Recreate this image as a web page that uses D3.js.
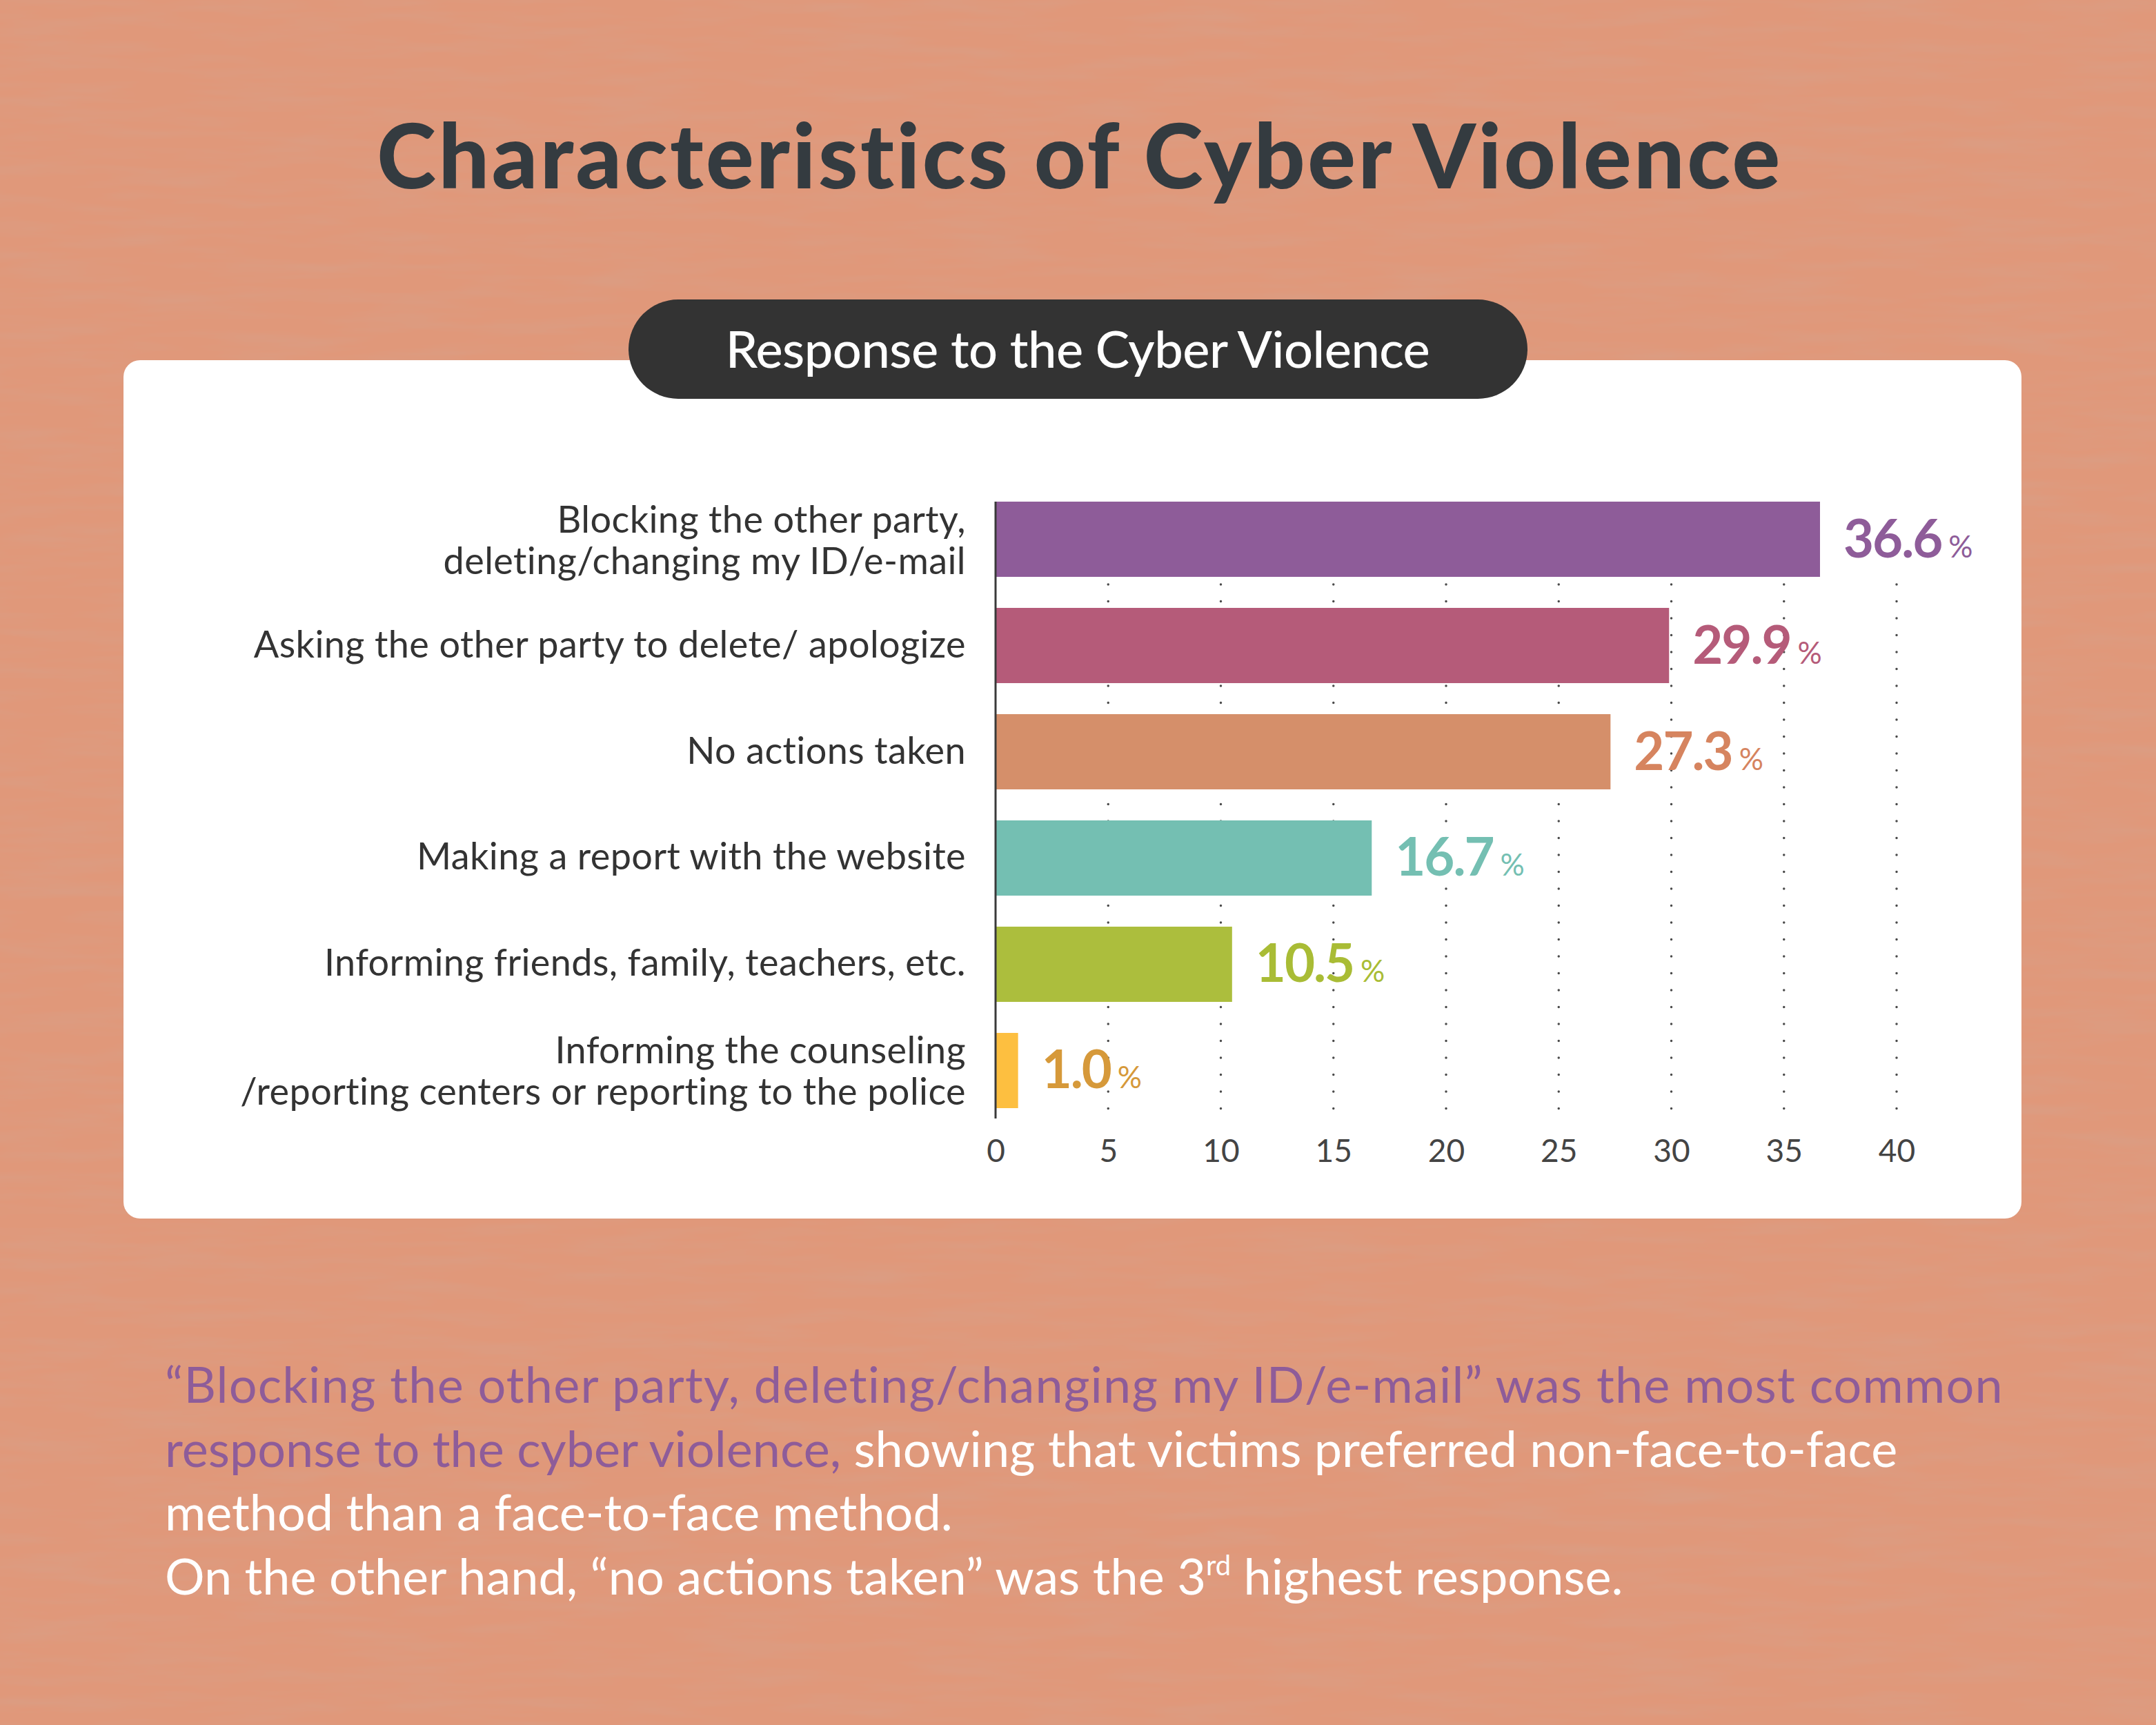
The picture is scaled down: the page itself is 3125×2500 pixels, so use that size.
<!DOCTYPE html>
<html>
<head>
<meta charset="utf-8">
<script src="https://cdn.jsdelivr.net/npm/d3@7"></script>
<style>
  html, body { margin: 0; padding: 0; background: #e0987a; }
  svg { display: block; }
</style>
</head>
<body>
<svg id="chart" width="3125" height="2500"></svg>
<script>
// chart values
const categories = [
    ["Blocking the other party,", "deleting/changing my ID/e-mail"],
    ["Asking the other party to delete/ apologize"],
    ["No actions taken"],
    ["Making a report with the website"],
    ["Informing friends, family, teachers, etc."],
    ["Informing the counseling", "/reporting centers or reporting to the police"]
];
const values = [36.6, 29.9, 27.3, 16.7, 10.5, 1.0];
const tickValues = [0, 5, 10, 15, 20, 25, 30, 35, 40];
const gridValues = [5, 10, 15, 20, 25, 30, 35, 40];

const barColors = ["#8e5c99", "#b55b79", "#d58f6a", "#74bfb2", "#acbe3d", "#fdbf40"];
const labelColors = ["#8e5c99", "#b55b79", "#d6845f", "#74bfb2", "#a9bc35", "#d6993a"];

const title = "Characteristics of Cyber Violence";
const subtitle = "Response to the Cyber Violence";

let W = 3125, H = 2500;
let font = "Lato, 'Open Sans', sans-serif";
let svg = d3.select("#chart");

// paper background with faint vertical streaks
let defs = svg.append("defs");
let paper = defs.append("filter").attr("id", "paper")
    .attr("x", 0).attr("y", 0).attr("width", "100%").attr("height", "100%");
paper.append("feTurbulence")
    .attr("type", "fractalNoise")
    .attr("baseFrequency", "0.006 0.05")
    .attr("numOctaves", 3)
    .attr("seed", 7);
paper.append("feColorMatrix")
    .attr("type", "matrix")
    .attr("values", "0 0 0 0 0.62  0 0 0 0 0.40  0 0 0 0 0.32  0.5 0 0 0 -0.2");

svg.append("rect").attr("width", W).attr("height", H).attr("fill", "#e0987a");
svg.append("rect").attr("width", W).attr("height", H).attr("filter", "url(#paper)");

// main title
svg.append("text")
    .text(title)
    .attr("x", 1565).attr("y", 273)
    .attr("text-anchor", "middle")
    .attr("font-family", font)
    .attr("font-weight", 900)
    .attr("font-size", 130)
    .attr("letter-spacing", 3.5)
    .attr("fill", "#343b40");

// white card + dark pill header
svg.append("rect")
    .attr("x", 179).attr("y", 522)
    .attr("width", 2930 - 179).attr("height", 1766 - 522)
    .attr("rx", 24)
    .attr("fill", "#ffffff");
svg.append("rect")
    .attr("x", 911).attr("y", 434)
    .attr("width", 2214 - 911).attr("height", 578 - 434)
    .attr("rx", 72)
    .attr("fill", "#333333");
svg.append("text")
    .text(subtitle)
    .attr("x", 1562).attr("y", 533)
    .attr("text-anchor", "middle")
    .attr("font-family", font)
    .attr("font-weight", 500)
    .attr("font-size", 74)
    .attr("letter-spacing", -0.5)
    .attr("fill", "#ffffff");

// scales
let xScale = d3.scaleLinear().domain([0, 40]).range([1443, 2749]);
let yScale = d3.scaleBand()
    .domain(d3.range(values.length))
    .range([727, 1606])
    .paddingInner(0.292)
    .paddingOuter(0);
let axisY = 1621;

// dotted gridlines
let body = svg.append("g").attr("class", "body");
body.append("g").attr("class", "grid")
    .selectAll("line")
    .data(gridValues)
    .enter()
        .append("line")
        .attr("x1", d => xScale(d)).attr("x2", d => xScale(d))
        .attr("y1", 847).attr("y2", axisY)
        .attr("stroke", "#4a4a4a")
        .attr("stroke-width", 3.5)
        .attr("stroke-linecap", "round")
        .attr("stroke-dasharray", "0 24.5");

// bars
body.append("g").attr("class", "bars")
    .selectAll("rect")
    .data(values)
    .enter()
        .append("rect")
        .attr("x", xScale(0))
        .attr("y", (d, i) => yScale(i))
        .attr("width", d => xScale(d) - xScale(0))
        .attr("height", yScale.bandwidth())
        .attr("fill", (d, i) => barColors[i]);

// vertical baseline
body.append("line")
    .attr("x1", xScale(0)).attr("x2", xScale(0))
    .attr("y1", yScale(0)).attr("y2", axisY)
    .attr("stroke", "#3a3a3a")
    .attr("stroke-width", 3);

// x axis (labels only)
let xAxis = body.append("g")
    .attr("class", "axis axis--x")
    .attr("transform", `translate(0,${axisY})`)
    .call(d3.axisBottom(xScale).tickValues(tickValues).tickSize(0).tickPadding(30));
xAxis.select(".domain").remove();
xAxis.selectAll("text")
    .attr("font-family", font)
    .attr("font-size", 46)
    .attr("fill", "#444444");

// value labels: bold number + small percent sign
let vals = body.append("g").attr("class", "values")
    .selectAll("text")
    .data(values)
    .enter()
        .append("text")
        .attr("x", d => xScale(d) + 34)
        .attr("y", (d, i) => yScale(i) + yScale.bandwidth() / 2 + 26)
        .attr("font-family", font)
        .attr("fill", (d, i) => labelColors[i]);
vals.append("tspan")
    .text(d => d.toFixed(1))
    .attr("font-size", 76)
    .attr("font-weight", 700)
    .attr("letter-spacing", -2);
vals.append("tspan")
    .text("%")
    .attr("dx", 10)
    .attr("font-size", 44);

// category labels, right aligned
let cats = body.append("g").attr("class", "categories")
    .selectAll("text")
    .data(categories)
    .enter()
        .append("text")
        .attr("text-anchor", "end")
        .attr("font-family", font)
        .attr("font-size", 54)
        .attr("letter-spacing", 0.4)
        .attr("fill", "#333333");
cats.each(function(lines, i) {
    let mid = yScale(i) + yScale.bandwidth() / 2;
    let first = lines.length > 1 ? mid - 10 : mid + 17;
    d3.select(this).selectAll("tspan")
        .data(lines)
        .enter()
            .append("tspan")
            .attr("x", 1400)
            .attr("y", (d, j) => first + j * 60)
            .text(d => d);
});

// commentary below the card
let noteLines = [
    [{ t: "\u201CBlocking the other party, deleting/changing my ID/e-mail\u201D was the most common", c: "#8e5c99" }],
    [{ t: "response to the cyber violence,", c: "#8e5c99" }, { t: " showing that victims preferred non-face-to-face", c: "#ffffff" }],
    [{ t: "method than a face-to-face method.", c: "#ffffff" }],
    [{ t: "On the other hand, \u201Cno actions taken\u201D was the 3", c: "#ffffff" },
     { t: "rd", c: "#ffffff", sup: true },
     { t: " highest response.", c: "#ffffff", after: true }]
];
let note = svg.append("g").attr("class", "note");
noteLines.forEach(function(parts, i) {
    let line = note.append("text")
        .attr("x", 239)
        .attr("y", 2033 + i * 92.5)
        .attr("font-family", font)
        .attr("font-size", 72)
        .attr("letter-spacing", i == 0 ? 1.2 : 0);
    parts.forEach(function(p) {
        let s = line.append("tspan").text(p.t).attr("fill", p.c);
        if (p.sup) s.attr("font-size", 40).attr("dy", -28);
        if (p.after) s.attr("dy", 28);
    });
});
</script>
</body>
</html>
